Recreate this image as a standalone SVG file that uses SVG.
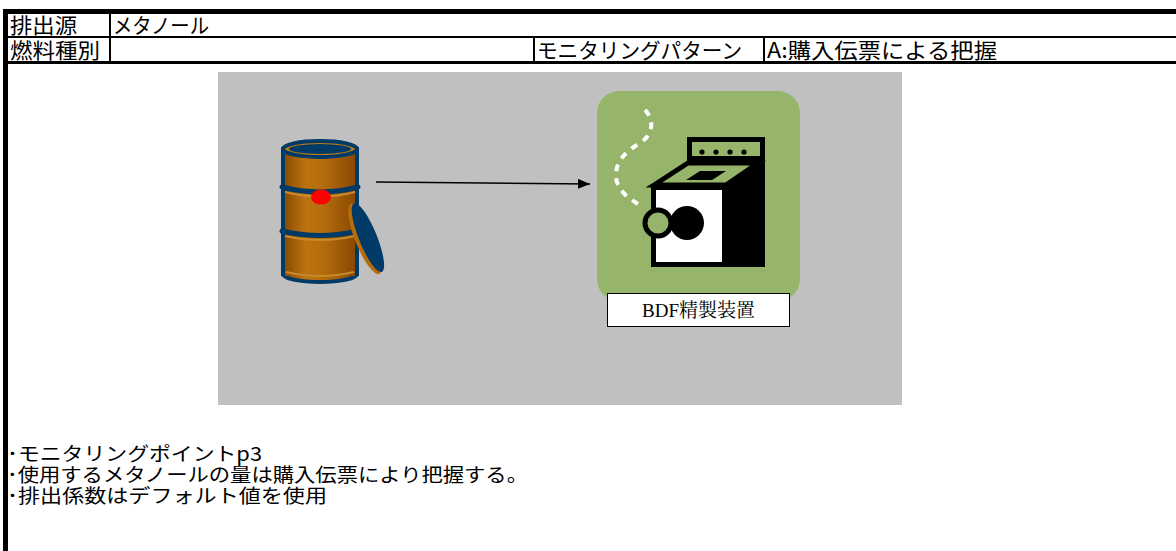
<svg xmlns="http://www.w3.org/2000/svg" width="1176" height="551" viewBox="0 0 1176 551">
  <defs>
    <style>
      .hdr { font-family: "Noto Sans CJK JP", "Liberation Sans", sans-serif; font-size: 21px; fill: #000; }
      .note { font-family: "Noto Sans CJK JP", "Liberation Sans", sans-serif; font-size: 19px; fill: #000; }
      .lbl { font-family: "Liberation Serif", "Noto Serif CJK JP", "Noto Sans CJK JP", serif; font-size: 19px; fill: #000; }
      .rule { fill: #000; }
      .navy { fill: #003A66; }
      .band { fill: none; stroke: #003A66; stroke-width: 5; stroke-linecap: round; }
      .bandhi { fill: none; stroke: #C98A2C; stroke-width: 2; }
      .ink { stroke: #000; stroke-width: 5; stroke-linejoin: miter; }
      .conn { fill: none; stroke: #000; stroke-width: 1.3; }
    </style>
    <linearGradient id="drumBody" x1="0" y1="0" x2="1" y2="0">
      <stop offset="0" stop-color="#8C4B04"/>
      <stop offset="0.3" stop-color="#BC7410"/>
      <stop offset="0.55" stop-color="#B56C0C"/>
      <stop offset="1" stop-color="#8A4903"/>
    </linearGradient>
    <marker id="arrow" viewBox="0 0 12 10" refX="12" refY="5" markerWidth="12" markerHeight="10" markerUnits="userSpaceOnUse" orient="auto">
      <path d="M0,0 L12,5 L0,10 Z" fill="#000"/>
    </marker>
  </defs>

  <rect width="1176" height="551" fill="#fff"/>

  <!-- header table frame -->
  <g id="frame">
    <rect class="rule" x="3" y="9" width="1173" height="5"/>
    <rect class="rule" x="3" y="36" width="1173" height="2"/>
    <rect class="rule" x="3" y="61" width="1173" height="3"/>
    <rect class="rule" x="3" y="9" width="5" height="542"/>
    <rect class="rule" x="109" y="14" width="2" height="48"/>
    <rect class="rule" x="533" y="37" width="2" height="25"/>
    <rect class="rule" x="763" y="37" width="2" height="25"/>
  </g>

  <g id="header-text">
    <text class="hdr" x="10" y="32.5" textLength="67" lengthAdjust="spacingAndGlyphs">排出源</text>
    <text class="hdr" x="113" y="32.5" textLength="96" lengthAdjust="spacingAndGlyphs">メタノール</text>
    <text class="hdr" x="10" y="58" textLength="90" lengthAdjust="spacingAndGlyphs">燃料種別</text>
    <text class="hdr" x="537" y="58" textLength="205" lengthAdjust="spacingAndGlyphs">モニタリングパターン</text>
    <text class="hdr" x="767" y="58" textLength="230" lengthAdjust="spacingAndGlyphs">A:購入伝票による把握</text>
  </g>

  <!-- illustration panel -->
  <rect id="panel" x="218" y="72" width="684" height="333" fill="#C0C0C0"/>

  <!-- methanol drum -->
  <g id="drum">
    <ellipse cx="320" cy="274" rx="37" ry="8" fill="url(#drumBody)" stroke="#003A66" stroke-width="4"/>
    <rect x="283" y="149" width="74" height="125" fill="url(#drumBody)" stroke="#003A66" stroke-width="4"/>
    <rect x="285" y="151" width="70" height="125" fill="url(#drumBody)"/>
    <path class="bandhi" d="M285,192 Q320,201 355,192"/>
    <path class="band" d="M282,187 Q320,197 358,187"/>
    <path class="bandhi" d="M285,236 Q320,244 355,236"/>
    <path class="band" d="M282,231 Q320,240 358,231"/>
    <path class="bandhi" d="M286,272 Q320,280 354,272"/>
    <ellipse cx="320" cy="149" rx="37" ry="8" fill="#C07A18" stroke="#003A66" stroke-width="4"/>
    <ellipse cx="320" cy="149" rx="31" ry="5" class="navy"/>
    <ellipse cx="321" cy="197" rx="10" ry="7.5" fill="#FF0000"/>
    <g transform="rotate(-22 367 238)">
      <ellipse cx="365" cy="238" rx="10" ry="38" fill="#B56C0C"/>
      <ellipse cx="368" cy="238" rx="9" ry="37" class="navy"/>
    </g>
  </g>

  <!-- BDF refining unit -->
  <g id="bdf-unit">
    <rect x="597" y="91" width="203" height="210" rx="22" fill="#96B46A"/>
    <path d="M645,110 C655,120 653,135 640,143 C625,152 615,162 616,177 C617,190 628,198 638,204" fill="none" stroke="#fff" stroke-width="4" stroke-dasharray="7 7"/>
    <rect x="689.5" y="139.5" width="73" height="19" fill="#96B46A" class="ink"/>
    <circle cx="702" cy="152" r="2.6"/>
    <circle cx="716" cy="152" r="2.6"/>
    <circle cx="730" cy="152" r="2.6"/>
    <circle cx="744" cy="152" r="2.6"/>
    <polygon points="727,186 765,161 765,267 727,267" fill="#000"/>
    <polygon points="654,185 688,163 758,163 726,185" fill="#96B46A" class="ink"/>
    <polygon points="686,180 700,171 726,171 712,180" fill="#000"/>
    <rect x="653.5" y="187.5" width="71" height="77" fill="#fff" class="ink"/>
    <circle cx="687" cy="223" r="17" fill="#000"/>
    <circle cx="658" cy="223" r="13" fill="#96B46A" class="ink"/>
    <rect x="607.5" y="293.5" width="182" height="33" fill="#fff" stroke="#000" stroke-width="1"/>
    <text class="lbl" x="698.5" y="317" text-anchor="middle">BDF精製装置</text>
  </g>

  <g id="connectors">
    <path class="conn" d="M376,182 L590,184" marker-end="url(#arrow)"/>
  </g>

  <g id="notes">
    <text class="note" x="7" y="461" textLength="255" lengthAdjust="spacingAndGlyphs">･モニタリングポイントp3</text>
    <text class="note" x="7" y="482" textLength="521" lengthAdjust="spacingAndGlyphs">･使用するメタノールの量は購入伝票により把握する。</text>
    <text class="note" x="7" y="503" textLength="320" lengthAdjust="spacingAndGlyphs">･排出係数はデフォルト値を使用</text>
  </g>
</svg>
